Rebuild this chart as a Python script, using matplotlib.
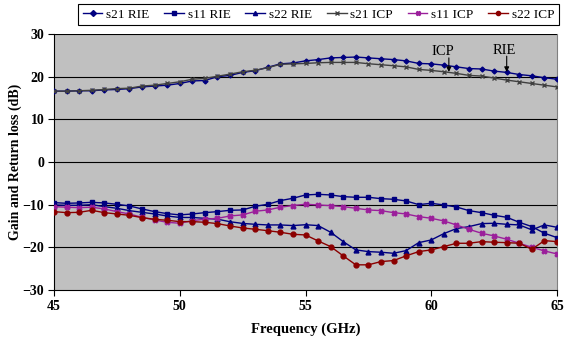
import matplotlib
matplotlib.use("Agg")
import matplotlib.pyplot as plt
import numpy as np

# frequency axis (GHz), one point every 0.5 GHz
freq = np.arange(45, 65.01, 0.5)

s21_rie = [16.6, 16.6, 16.7, 16.7, 16.9, 17.0, 17.2, 17.6, 17.8, 18.0, 18.4,
           19.0, 19.1, 20.0, 20.3, 21.0, 21.4, 22.2, 23.0, 23.2, 23.7,
           24.0, 24.4, 24.5, 24.6, 24.4, 24.2, 24.0, 23.7, 23.1, 23.0,
           22.7, 22.3, 21.9, 21.8, 21.3, 21.0, 20.5, 20.2, 19.75, 19.4]
s11_rie = [-9.52, -9.68, -9.6, -9.45, -9.6, -9.91, -10.3, -11.0, -11.63, -12.1, -12.4,
           -12.18, -11.87, -11.63, -11.32, -11.24, -10.38, -9.91, -9.05, -8.5, -7.73,
           -7.57, -7.73, -8.12, -8.27, -8.27, -8.59, -8.74, -9.13, -9.99, -9.68,
           -10.07, -10.54, -11.4, -11.87, -12.49, -12.96, -14.13, -15.14, -16.7, -17.72]
s22_rie = [-10.07, -10.15, -10.15, -10.0, -10.46, -10.85, -11.4, -11.8, -12.18, -12.65, -13.0,
           -13.0, -13.2, -13.4, -14.0, -14.4, -14.6, -14.75, -14.75, -14.9, -14.7,
           -14.9, -16.47, -18.66, -20.6, -21.0, -21.15, -21.39, -20.77, -18.9, -18.27,
           -16.78, -15.61, -15.14, -14.44, -14.36, -14.6, -14.75, -15.9, -14.75, -15.3]
s21_icp = [16.6, 16.6, 16.7, 16.8, 17.0, 17.2, 17.3, 17.8, 18.0, 18.4, 18.8,
           19.4, 19.6, 20.1, 20.6, 21.15, 21.5, 22.1, 22.9, 23.0, 23.1,
           23.26, 23.34, 23.34, 23.34, 23.03, 22.8, 22.56, 22.3, 21.7, 21.47,
           21.15, 20.77, 20.3, 20.14, 19.67, 19.2, 18.8, 18.4, 18.0, 17.6]
s11_icp = [-10.46, -10.6, -10.7, -10.6, -11.0, -11.63, -12.18, -12.96, -13.58, -14.13, -14.36,
           -13.74, -13.4, -13.2, -12.65, -12.4, -11.55, -11.24, -10.6, -10.2, -9.9,
           -10.07, -10.23, -10.46, -10.85, -11.24, -11.4, -11.87, -12.18, -12.8, -13.19,
           -13.82, -14.75, -15.77, -16.7, -17.33, -18.1, -19.05, -19.98, -20.84, -21.55]
s22_icp = [-11.63, -11.87, -11.8, -11.32, -11.87, -12.18, -12.5, -13.04, -13.43, -13.66, -13.97,
           -13.97, -14.13, -14.44, -15.0, -15.46, -15.77, -16.1, -16.47, -16.94, -17.1,
           -18.5, -19.83, -22.0, -24.1, -24.1, -23.34, -23.1, -22.0, -21.0, -20.6,
           -19.83, -19.05, -19.05, -18.66, -18.81, -18.9, -19.05, -20.45, -18.43, -18.66]

x_ticks = [45, 50, 55, 60, 65]
y_ticks = [-30, -20, -10, 0, 10, 20, 30]

plt.rcParams['font.family'] = ['Liberation Serif', 'DejaVu Serif']

fig = plt.figure(figsize=(5.65, 3.45), dpi=100)
ax = fig.add_axes([54/565, 1 - 290/345, (557 - 54)/565, (290 - 34)/345])
ax.set_facecolor('#C0C0C0')

# horizontal grid lines (excel style)
for y in y_ticks[1:]:
    ax.axhline(y, color='black', lw=0.8, zorder=1)

navy = '#000080'
series = [
    (s21_rie, 's21 RIE', navy, 'D', 2.5),
    (s11_rie, 's11 RIE', navy, 's', 3.5),
    (s22_rie, 's22 RIE', navy, '^', 3.5),
    (s21_icp, 's21 ICP', '#404040', 'x', 3.0),
    (s11_icp, 's11 ICP', '#9B1F9B', 'X', 3.5),
    (s22_icp, 's22 ICP', '#8B0000', 'o', 3.5),
]
for vals, name, col, mk, ms in series:
    ax.plot(freq, vals, color=col, lw=1.0, marker=mk, ms=ms, mew=1.0,
            label=name, zorder=3)

ax.set_xlim(45, 65)
ax.set_ylim(-30, 30)
ax.set_xticks(x_ticks)
ax.set_yticks(y_ticks)
ax.tick_params(direction='out', length=4, width=0.8, labelsize=10, pad=3)
for lab in ax.get_xticklabels() + ax.get_yticklabels():
    lab.set_fontweight('bold')

ax.spines['top'].set_visible(False)
ax.spines['right'].set_color('#808080')
ax.spines['left'].set_linewidth(0.8)
ax.spines['bottom'].set_linewidth(0.8)

ax.set_xlabel('Frequency (GHz)', fontsize=10.5, fontweight='bold', labelpad=7)
ax.set_ylabel('Gain and Return loss (dB)', fontsize=10, fontweight='bold')
ax.yaxis.set_label_coords(-0.064, 0.5)

# ICP / RIE arrows
arrow = dict(arrowstyle='-|>', color='black', lw=0.8, mutation_scale=7,
             shrinkA=0, shrinkB=0)
ax.annotate('', xy=(60.7, 21.1), xytext=(60.7, 24.4), arrowprops=arrow, zorder=5)
ax.text(60.45, 24.3, 'ICP', ha='center', va='bottom', fontsize=10.5)
ax.annotate('', xy=(63.0, 21.1), xytext=(63.0, 24.8), arrowprops=arrow, zorder=5)
ax.text(62.9, 24.7, 'RIE', ha='center', va='bottom', fontsize=10.5)

leg = ax.legend(loc='upper right', bbox_to_anchor=(559/565, 1 - 4/345),
                bbox_transform=fig.transFigure, ncol=6, fontsize=9.5,
                frameon=True, fancybox=False, framealpha=1, edgecolor='black',
                handlelength=1.5, handletextpad=0.3, columnspacing=1.1,
                borderpad=0.35, borderaxespad=0)
leg.get_frame().set_linewidth(0.8)
for h in leg.legend_handles:
    h.set_markersize(3)

fig.savefig('out.png', dpi=100)
